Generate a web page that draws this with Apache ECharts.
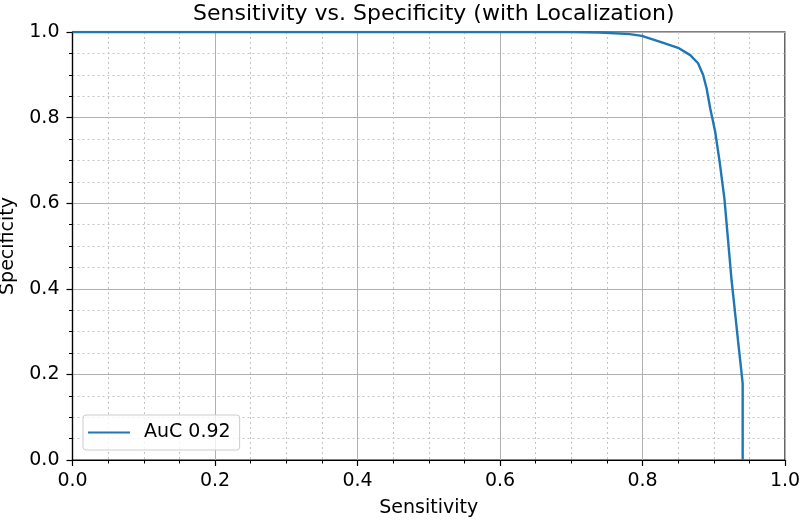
<!DOCTYPE html>
<html>
<head>
<meta charset="utf-8">
<script src="https://cdn.jsdelivr.net/npm/echarts@6/dist/echarts.min.js"></script>
<style>html,body{margin:0;padding:0;background:#fff}#c{width:800px;height:520px}</style>
</head>
<body>
<div id="c"></div>
<script>
var sensitivity = [0, 0.70, 0.74, 0.782, 0.799, 0.825, 0.850, 0.867, 0.878, 0.885, 0.890, 0.895, 0.8978, 0.902, 0.908, 0.915, 0.925, 0.928, 0.934, 0.9406, 0.9406];
var specificity = [1, 1, 0.999, 0.995, 0.991, 0.977, 0.963, 0.946, 0.927, 0.900, 0.868, 0.822, 0.80, 0.767, 0.70, 0.61, 0.42, 0.374, 0.28, 0.179, 0];
var seriesName = 'AuC 0.92';
var titleText = 'Sensitivity vs. Specificity (with Localization)';
var xName = 'Sensitivity';
var yName = 'Specificity';

var pts = sensitivity.map(function (s, i) { return [s, specificity[i]]; });
var font = 'DejaVu Sans';
function axis(name, isX) {
  return {
    type: 'value', min: 0, max: 1, interval: 0.2,
    name: name, nameLocation: 'middle', nameGap: isX ? 39 : 55,
    nameTextStyle: { fontFamily: font, fontSize: 19, color: '#000' },
    axisLine: { show: true, onZero: false, lineStyle: { color: '#000', width: 1.2 } },
    axisTick: { show: true, inside: false, length: 6, lineStyle: { color: '#000', width: 1.2 } },
    minorTick: { show: true, splitNumber: 4, length: 3.5, lineStyle: { color: '#000', width: 1 } },
    axisLabel: { fontFamily: font, fontSize: 19, color: '#000', margin: isX ? 12 : 13,
      formatter: function (v) { return v.toFixed(1); } },
    splitLine: { show: true, lineStyle: { color: '#b0b0b0', width: 1 } },
    minorSplitLine: { show: true, lineStyle: { color: '#c4c4c4', width: 1, type: [2, 3] } }
  };
}
var chart = echarts.init(document.getElementById('c'), null, { renderer: 'canvas' });
chart.setOption({
  animation: false,
  backgroundColor: '#fff',
  title: { text: titleText, left: 428.75, textAlign: 'center', top: -2,
    textStyle: { fontFamily: font, fontSize: 22, fontWeight: 'normal', color: '#000' } },
  grid: { left: 72.5, right: 15, top: 32, bottom: 60, outerBoundsMode: 'none', containLabel: false,
    show: true, borderColor: '#000', borderWidth: 1.2, backgroundColor: 'transparent' },
  xAxis: axis(xName, true),
  yAxis: axis(yName, false),
  legend: {
    left: 83, top: 415, orient: 'vertical',
    backgroundColor: 'rgba(255,255,255,0.8)', borderColor: '#cccccc', borderWidth: 1, borderRadius: 3,
    padding: [8, 9, 8, 5], itemWidth: 42, itemHeight: 14, itemGap: 10,
    textStyle: { fontFamily: font, fontSize: 19, color: '#000', padding: [0, 0, 0, 9] },
    data: [{ name: seriesName, icon: 'path://M0,0L42,0L42,2.2L0,2.2Z' }]
  },
  series: [{
    name: seriesName, type: 'line', data: pts, showSymbol: false, symbol: 'none',
    lineStyle: { color: '#1f77b4', width: 2.4 }, itemStyle: { color: '#1f77b4' }
  }]
});
</script>
</body>
</html>
